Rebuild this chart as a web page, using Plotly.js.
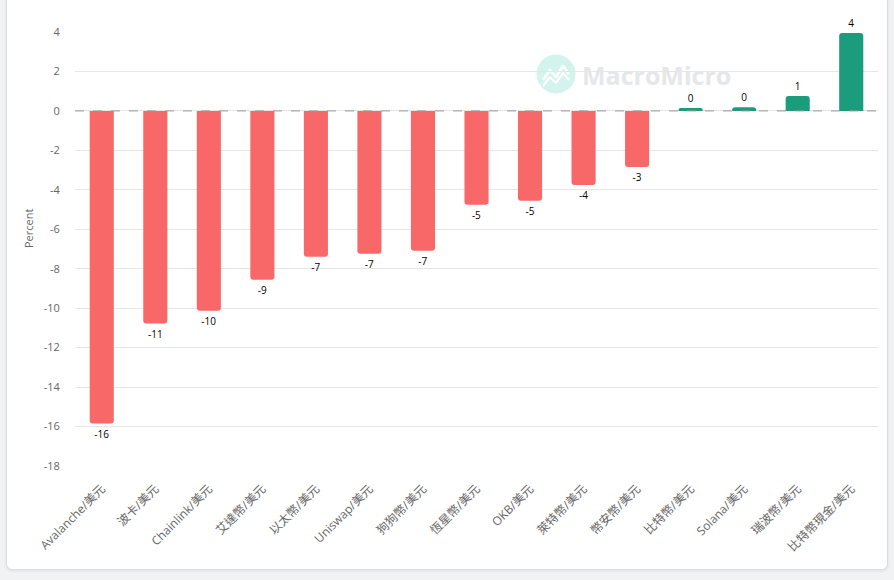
<!DOCTYPE html>
<html>
<head>
<meta charset="utf-8">
<script src="https://cdn.plot.ly/plotly-3.0.1.min.js"></script>
<style>
  html, body { margin:0; padding:0; width:894px; height:580px; background:#f1f2f4; overflow:hidden; }
  #card { position:absolute; left:6px; top:-6px; width:880px; height:574px; background:#fff;
          border:1px solid #dcdde0; border-radius:6px; box-shadow:0 1px 3px rgba(0,0,0,0.08); }
  #wm { position:absolute; left:0; top:0; }
  #chart { position:absolute; left:0; top:0; width:894px; height:580px; }
</style>
</head>
<body>
<div id="card"></div>
<svg id="wm" width="894" height="580">
  <circle cx="556" cy="74" r="19.5" fill="#d3f4ec"/>
  <path d="M543 80 L550 70 L556 77 L563 66 L569 74" stroke="#ffffff" stroke-width="2.6" fill="none" stroke-linejoin="round"/>
  <path d="M543 86 L550 77 L556 83 L563 73 L569 80" stroke="#ffffff" stroke-width="2.2" fill="none" stroke-linejoin="round"/>
  <text x="582" y="85" font-family="Open Sans, Roboto, sans-serif" font-weight="700" font-size="25" fill="#e6e7e9">MacroMicro</text>
</svg>
<div id="chart"></div>
<script>
const categories = ["Avalanche/美元","波卡/美元","Chainlink/美元","艾達幣/美元","以太幣/美元","Uniswap/美元","狗狗幣/美元","恆星幣/美元","OKB/美元","萊特幣/美元","幣安幣/美元","比特幣/美元","Solana/美元","瑞波幣/美元","比特幣現金/美元"];
const values = [-15.85, -10.78, -10.13, -8.56, -7.39, -7.24, -7.09, -4.76, -4.56, -3.75, -2.84, 0.15, 0.18, 0.76, 3.95];
const yTicks = [4, 2, 0, -2, -4, -6, -8, -10, -12, -14, -16, -18];

const RED = "#f96868", GREEN = "#1a9c7d";
const colors = values.map(v => v < 0 ? RED : GREEN);
const labels = values.map(v => String(Math.round(v)).replace(/^-0$/, "0"));

const font = "Open Sans, Noto Sans CJK TC, sans-serif";

Plotly.newPlot("chart", [{
  type: "bar",
  x: categories,
  y: values,
  marker: { color: colors, cornerradius: 3 },
  text: labels,
  texttemplate: "%{text}",
  textposition: "outside",
  textfont: { size: 10, color: "#000", family: font },
  cliponaxis: false,
  width: 0.45,
  hoverinfo: "x+y"
}], {
  width: 894, height: 580,
  margin: { l: 75, r: 16, t: 32, b: 114 },
  paper_bgcolor: "rgba(0,0,0,0)",
  plot_bgcolor: "rgba(0,0,0,0)",
  font: { family: font, color: "#666" },
  showlegend: false,
  bargap: 0.55,
  xaxis: {
    type: "category",
    tickangle: -45,
    tickfont: { size: 12, color: "#666", family: font },
    showgrid: false, zeroline: false, showline: false,
    ticks: "outside", ticklen: 10, tickcolor: "rgba(0,0,0,0)",
    automargin: false
  },
  yaxis: {
    range: [-18, 4],
    tickvals: yTicks,
    ticktext: yTicks.map(String),
    tickfont: { size: 11, color: "#666", family: font },
    gridcolor: "#e6e6e6", gridwidth: 1,
    zeroline: false, showline: false,
    ticks: "outside", ticklen: 12, tickcolor: "rgba(0,0,0,0)",
    automargin: false
  },
  annotations: [{
    text: "Percent", textangle: -90, showarrow: false,
    xref: "paper", yref: "paper", x: -0.0585, y: 0.546,
    xanchor: "center", yanchor: "middle",
    font: { size: 11, color: "#666", family: font }
  }],
  shapes: [{
    type: "line", xref: "paper", yref: "y", x0: 0, x1: 1, y0: 0, y1: 0,
    line: { color: "#999", width: 1, dash: "dash" }, layer: "above"
  }]
}, { displayModeBar: false, staticPlot: true });
</script>
</body>
</html>
